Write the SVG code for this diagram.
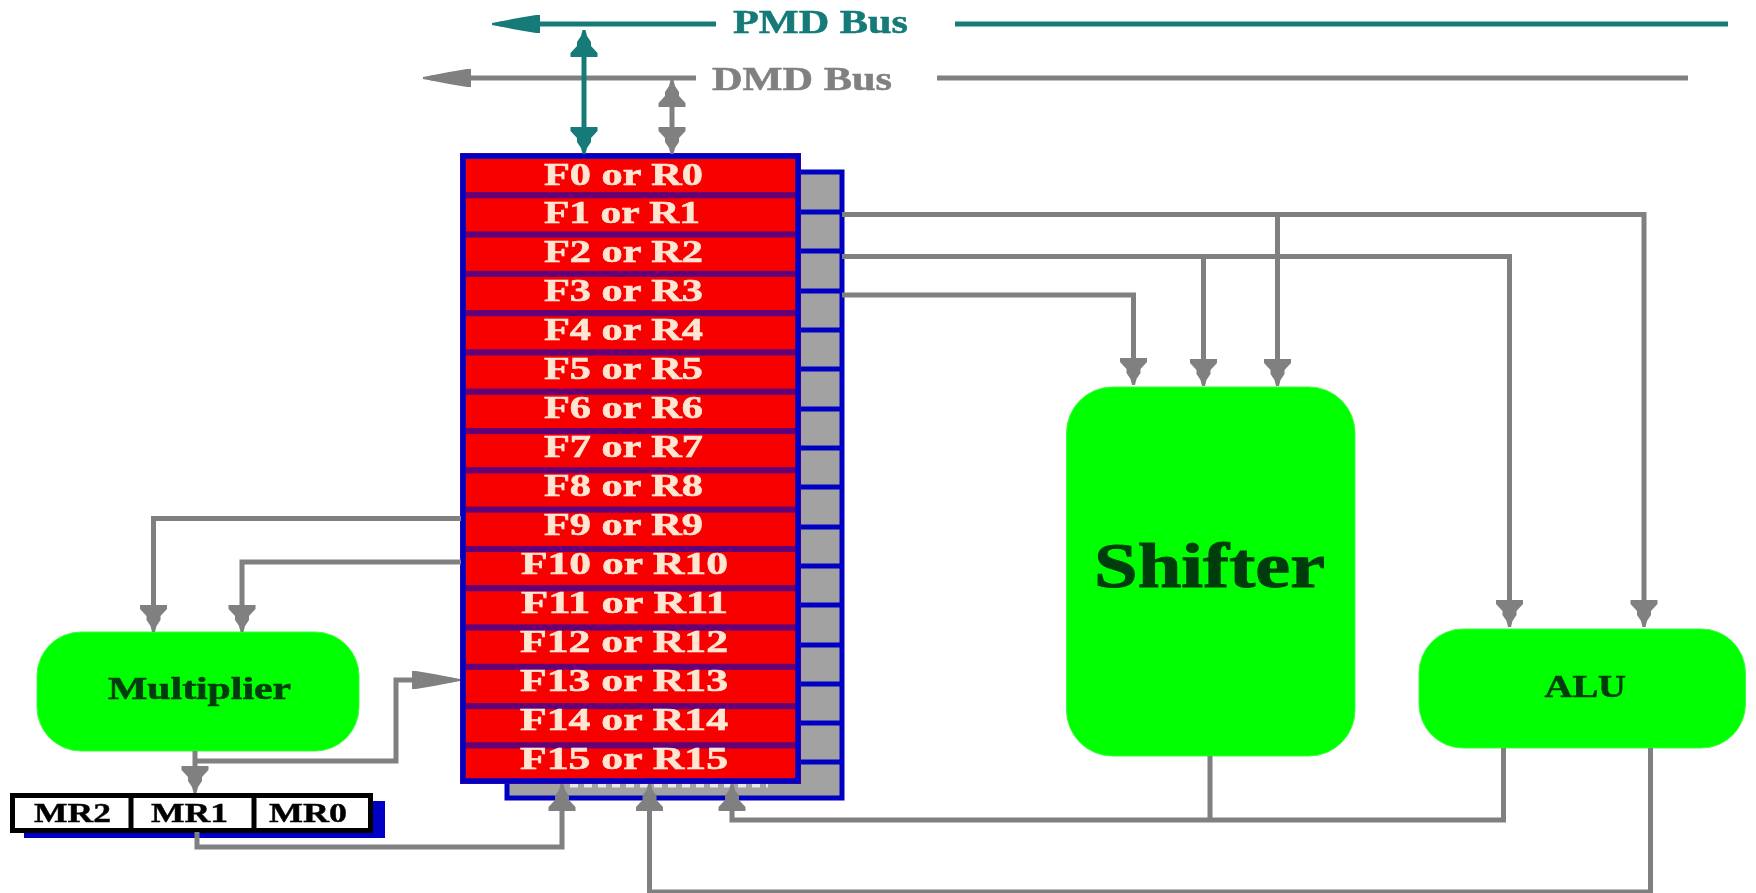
<svg xmlns="http://www.w3.org/2000/svg" width="1756" height="893" viewBox="0 0 1756 893">
<style>
.c{fill:none;stroke:#808080;stroke-width:5}
.t{fill:none;stroke:#127a78;stroke-width:5}
.row{fill:#f80000;stroke:#640078;stroke-width:6}
.rt{font-family:"Liberation Serif",serif;font-weight:bold;font-size:31px;fill:#ffe6d2;stroke:#ffe6d2;stroke-width:.6;text-anchor:middle}
.nt{font-family:"Liberation Serif",serif;font-weight:bold;font-size:31px;fill:#063c0c;stroke:#063c0c;stroke-width:.6}
.mr{font-family:"Liberation Serif",serif;font-weight:bold;font-size:27px;fill:#000;stroke:#000;stroke-width:.4}
.cell{fill:#a2a2a2;stroke:#0000c4;stroke-width:5}
.b{fill:#00ff00;stroke:#3cff3c;stroke-width:1}
</style>
<defs>
<filter id="s" x="-5%" y="-5%" width="110%" height="110%"><feGaussianBlur stdDeviation="0.6"/></filter>
<marker id="vg" markerUnits="userSpaceOnUse" viewBox="0 -14 27 28" refX="21" refY="0" markerWidth="27" markerHeight="28" orient="auto-start-reverse"><path d="M0-13.5 4-13.5 11-7 15-7 21-3 27-1.5V1.500L21 3 15 7 11 7 4 13.500 0 13.500Z" fill="#808080"/></marker>
<marker id="vt" markerUnits="userSpaceOnUse" viewBox="0 -14 27 28" refX="21" refY="0" markerWidth="27" markerHeight="28" orient="auto-start-reverse"><path d="M0-13.5 4-13.5 11-7 15-7 21-3 27-1.5V1.500L21 3 15 7 11 7 4 13.500 0 13.500Z" fill="#127a78"/></marker>
<marker id="hg" markerUnits="userSpaceOnUse" viewBox="0 -10 48 20" refX="40" refY="0" markerWidth="48" markerHeight="20" orient="auto"><path d="M0-9H4L22-6 40-2.5 48-1V1L40 2.5 22 6 4 9H0Z" fill="#808080"/></marker>
<marker id="ht" markerUnits="userSpaceOnUse" viewBox="0 -10 48 20" refX="40" refY="0" markerWidth="48" markerHeight="20" orient="auto"><path d="M0-9H4L22-6 40-2.5 48-1V1L40 2.5 22 6 4 9H0Z" fill="#127a78"/></marker>
</defs>
<rect width="1756" height="893" fill="#fff"/>
<g filter="url(#s)">
<g id="register-back">
<rect x="507" y="172" width="335" height="626" class="cell"/>
<path d="M800 212H842M800 251H842M800 291H842M800 330H842M800 369H842M800 409H842M800 448H842M800 487H842M800 527H842M800 566H842M800 605H842M800 645H842M800 684H842M800 723H842M800 762H842" fill="none" stroke="#0000c4" stroke-width="5"/>
<path d="M570 785H768" fill="none" stroke="#e8e8e8" stroke-width="5" stroke-dasharray="8 6"/>
</g>
<g id="registers">
<g id="r0"><rect x="463" y="156" width="335" height="39.3" class="row"/><text x="623.5" y="185" class="rt" textLength="159" lengthAdjust="spacingAndGlyphs">F0 or R0</text></g>
<g id="r1"><rect x="463" y="195.3" width="335" height="39.3" class="row"/><text x="622" y="223" class="rt" textLength="156" lengthAdjust="spacingAndGlyphs">F1 or R1</text></g>
<g id="r2"><rect x="463" y="234.6" width="335" height="39.3" class="row"/><text x="623.5" y="262" class="rt" textLength="159" lengthAdjust="spacingAndGlyphs">F2 or R2</text></g>
<g id="r3"><rect x="463" y="273.9" width="335" height="39.3" class="row"/><text x="623.5" y="301" class="rt" textLength="159" lengthAdjust="spacingAndGlyphs">F3 or R3</text></g>
<g id="r4"><rect x="463" y="313.2" width="335" height="39.3" class="row"/><text x="623.5" y="340" class="rt" textLength="159" lengthAdjust="spacingAndGlyphs">F4 or R4</text></g>
<g id="r5"><rect x="463" y="352.5" width="335" height="39.3" class="row"/><text x="623.5" y="379" class="rt" textLength="159" lengthAdjust="spacingAndGlyphs">F5 or R5</text></g>
<g id="r6"><rect x="463" y="391.8" width="335" height="39.3" class="row"/><text x="623.5" y="418" class="rt" textLength="159" lengthAdjust="spacingAndGlyphs">F6 or R6</text></g>
<g id="r7"><rect x="463" y="431.1" width="335" height="39.3" class="row"/><text x="623.5" y="457" class="rt" textLength="159" lengthAdjust="spacingAndGlyphs">F7 or R7</text></g>
<g id="r8"><rect x="463" y="470.4" width="335" height="39.3" class="row"/><text x="623.5" y="496" class="rt" textLength="159" lengthAdjust="spacingAndGlyphs">F8 or R8</text></g>
<g id="r9"><rect x="463" y="509.7" width="335" height="39.3" class="row"/><text x="623.5" y="535" class="rt" textLength="159" lengthAdjust="spacingAndGlyphs">F9 or R9</text></g>
<g id="r10"><rect x="463" y="549" width="335" height="39.3" class="row"/><text x="624.5" y="574" class="rt" textLength="207" lengthAdjust="spacingAndGlyphs">F10 or R10</text></g>
<g id="r11"><rect x="463" y="588.3" width="335" height="39.3" class="row"/><text x="624.5" y="613" class="rt" textLength="207" lengthAdjust="spacingAndGlyphs">F11 or R11</text></g>
<g id="r12"><rect x="463" y="627.6" width="335" height="39.3" class="row"/><text x="624" y="652" class="rt" textLength="208" lengthAdjust="spacingAndGlyphs">F12 or R12</text></g>
<g id="r13"><rect x="463" y="666.9" width="335" height="39.3" class="row"/><text x="624" y="691" class="rt" textLength="208" lengthAdjust="spacingAndGlyphs">F13 or R13</text></g>
<g id="r14"><rect x="463" y="706.2" width="335" height="39.3" class="row"/><text x="624" y="730" class="rt" textLength="208" lengthAdjust="spacingAndGlyphs">F14 or R14</text></g>
<g id="r15"><rect x="463" y="745.5" width="335" height="35.5" class="row"/><text x="624" y="769" class="rt" textLength="208" lengthAdjust="spacingAndGlyphs">F15 or R15</text></g>
<rect x="463" y="156" width="335" height="625" fill="none" stroke="#0000c4" stroke-width="5"/>
</g>
<g id="shifter"><rect x="1066.5" y="387" width="288.5" height="369" rx="46" class="b"/><text x="1094" y="587" class="nt" style="font-size:64px;stroke-width:1" textLength="231" lengthAdjust="spacingAndGlyphs">Shifter</text></g>
<g id="alu"><rect x="1419" y="629" width="326.5" height="119" rx="44" class="b"/><text x="1544.5" y="697" class="nt" textLength="81.5" lengthAdjust="spacingAndGlyphs">ALU</text></g>
<g id="multiplier"><rect x="37" y="632" width="322" height="119" rx="44" class="b"/><text x="108" y="699" class="nt" textLength="183" lengthAdjust="spacingAndGlyphs">Multiplier</text></g>
<g id="mr">
<rect x="24" y="801" width="361" height="37" fill="#0000c4"/>
<rect x="12.5" y="795.5" width="358" height="35" fill="#fff" stroke="#000" stroke-width="5"/>
<path d="M131 795V830M254 795V830" stroke="#000" stroke-width="5" fill="none"/>
<text x="34" y="822" class="mr" textLength="77" lengthAdjust="spacingAndGlyphs">MR2</text>
<text x="151" y="822" class="mr" textLength="77" lengthAdjust="spacingAndGlyphs">MR1</text>
<text x="269" y="822" class="mr" textLength="78" lengthAdjust="spacingAndGlyphs">MR0</text>
</g>
<g id="pmd-bus-label"><text x="733" y="33" font-family="Liberation Serif, serif" font-weight="bold" font-size="33" fill="#127a78" stroke="#127a78" stroke-width=".5" textLength="175" lengthAdjust="spacingAndGlyphs">PMD Bus</text></g>
<g id="dmd-bus-label"><text x="712" y="90" font-family="Liberation Serif, serif" font-weight="bold" font-size="33" fill="#808080" stroke="#808080" stroke-width=".5" textLength="180" lengthAdjust="spacingAndGlyphs">DMD Bus</text></g>
<g id="connectors">
<path class="t" d="M716 24H500" marker-end="url(#ht)"/>
<path class="t" d="M955 24H1728"/>
<path class="c" d="M696 78H431" marker-end="url(#hg)"/>
<path class="c" d="M937 78H1688"/>
<path class="t" d="M584 36V148" marker-start="url(#vt)" marker-end="url(#vt)"/>
<path class="c" d="M672 86V148" marker-start="url(#vg)" marker-end="url(#vg)"/>
<path class="c" d="M842 214.500H1644V621" marker-end="url(#vg)"/>
<path class="c" d="M1277.500 214.500V380" marker-end="url(#vg)"/>
<path class="c" d="M842 256.500H1509.500V621" marker-end="url(#vg)"/>
<path class="c" d="M1203.500 256.500V380" marker-end="url(#vg)"/>
<path class="c" d="M842 295H1133.500V379" marker-end="url(#vg)"/>
<path class="c" d="M461 518.500H153.500V626" marker-end="url(#vg)"/>
<path class="c" d="M461 562H242V626" marker-end="url(#vg)"/>
<path class="c" d="M195 751V787" marker-end="url(#vg)"/>
<path class="c" d="M195 761H396V680H452" marker-end="url(#hg)"/>
<path class="c" d="M197 832V847H562V790" marker-end="url(#vg)"/>
<path class="c" d="M1650.500 748V892H649.500V790" marker-end="url(#vg)"/>
<path class="c" d="M1503.500 748V820H732V790" marker-end="url(#vg)"/>
<path class="c" d="M1210 756V820"/>
</g>
</g>
</svg>
